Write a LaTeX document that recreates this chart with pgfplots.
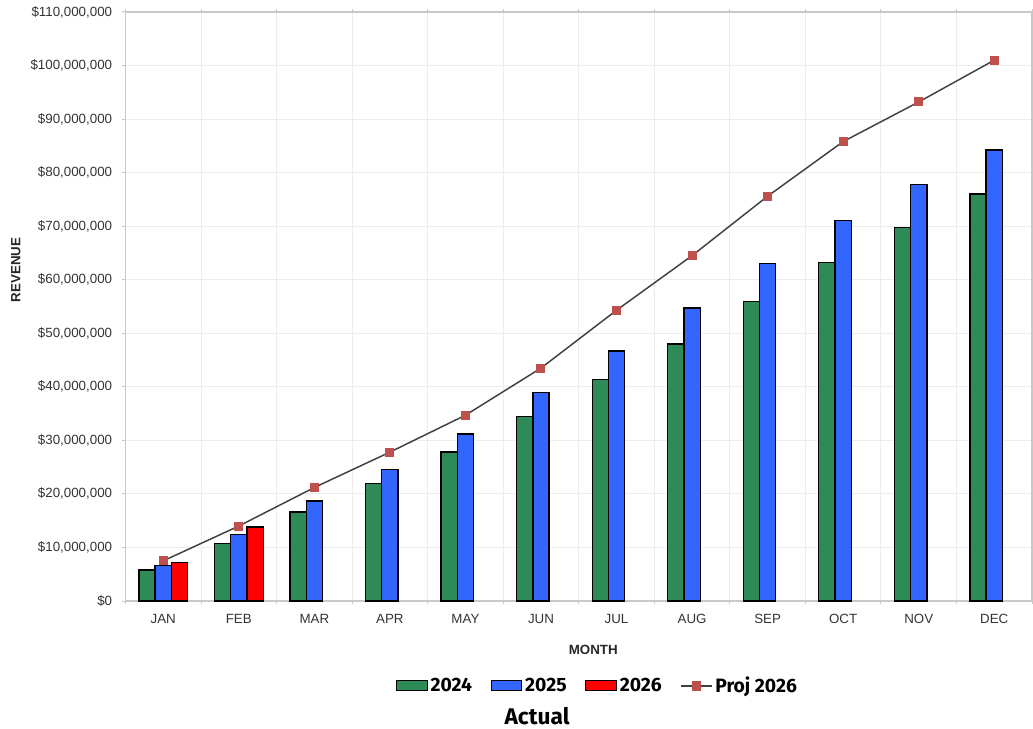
\documentclass[border=0pt]{standalone}
\usepackage{pgfplots}
\pgfplotsset{compat=1.18}
\usepackage{fontspec}
\setmainfont{Liberation Sans}
\newfontfamily\legfont{Fira Sans}
\definecolor{colG}{HTML}{2E8B57}
\definecolor{colB}{HTML}{3366FF}
\definecolor{colR}{HTML}{FF0000}
\definecolor{colM}{HTML}{C0504D}
\definecolor{colL}{HTML}{404040}
\definecolor{gridc}{HTML}{EDEDED}
\definecolor{axc}{HTML}{C8C8C8}
\definecolor{txtc}{HTML}{333333}
\begin{document}
\begin{tikzpicture}
\useasboundingbox (0pt,0pt) rectangle (774.75pt,546.75pt);
\begin{axis}[
  at={(94.125pt,96pt)}, anchor=south west, scale only axis,
  width=679.9pt, height=441.75pt,
  xmin=-0.5, xmax=11.5, ymin=0, ymax=110,
  xtick={0,...,11},
  xticklabels={JAN,FEB,MAR,APR,MAY,JUN,JUL,AUG,SEP,OCT,NOV,DEC},
  minor xtick={-0.5,0.5,...,11.5},
  xminorgrids=true, ymajorgrids=true,
  ytick={0,10,...,110},
  yticklabels={{\$0},{\$10,000,000},{\$20,000,000},{\$30,000,000},{\$40,000,000},{\$50,000,000},{\$60,000,000},{\$70,000,000},{\$80,000,000},{\$90,000,000},{\$100,000,000},{\$110,000,000}},
  /pgf/number format/assume math mode=true,
  grid style={gridc, line width=0.75pt},
  minor grid style={gridc, line width=0.75pt},
  axis line style={axc, line width=0.9pt},
  tick align=outside,
  major tick length=2.5pt, minor tick length=2.5pt,
  tick style={axc, line width=0.75pt},
  every major x tick/.append style={draw=none},
  ticklabel style={font=\fontsize{10}{12}\selectfont, text=txtc},
  xticklabel style={yshift=-4pt},
  yticklabel style={xshift=-4pt},
  xlabel={\textbf{MONTH}},
  xlabel style={font=\fontsize{10}{12}\selectfont, text=black!85, at={(axis description cs:0.516,-0.083)}, anchor=center},
  ylabel={\textbf{REVENUE}},
  ylabel style={font=\fontsize{10}{12}\selectfont, text=black!85, at={(axis description cs:-0.121,0.562)}, anchor=center, rotate=0},
  legend columns=4,
  legend style={at={(axis description cs:0.521,-0.144)}, anchor=center, draw=none, fill=none,
    font=\legfont\bfseries\fontsize{14.5}{17}\selectfont,
    /tikz/every even column/.append style={column sep=12pt}},
  clip=false,
]
\addplot[ybar, bar width=0.215, bar shift=-0.215, fill=colG, draw=black, line width=1pt,
  legend image code/.code={\draw[fill=colG, draw=black, line width=0.9pt] (0pt,-3.75pt) rectangle (23pt,3.75pt);}]
  coordinates {(0,5.8)(1,10.8)(2,16.6)(3,22.0)(4,27.8)(5,34.5)(6,41.4)(7,48.0)(8,55.9)(9,63.2)(10,69.7)(11,76.0)};
\addlegendentry{2024}
\addplot[ybar, bar width=0.215, bar shift=0, fill=colB, draw=black, line width=1pt,
  legend image code/.code={\draw[fill=colB, draw=black, line width=0.9pt] (0pt,-3.75pt) rectangle (23pt,3.75pt);}]
  coordinates {(0,6.6)(1,12.4)(2,18.7)(3,24.6)(4,31.2)(5,39.0)(6,46.7)(7,54.7)(8,63.0)(9,71.0)(10,77.8)(11,84.2)};
\addlegendentry{2025}
\addplot[ybar, bar width=0.215, bar shift=0.215, fill=colR, draw=black, line width=1pt,
  legend image code/.code={\draw[fill=colR, draw=black, line width=0.9pt] (0pt,-3.75pt) rectangle (23pt,3.75pt);}]
  coordinates {(0,7.15)(1,13.8)};
\addlegendentry{2026}
\addplot[sharp plot, color=colL, line width=1.1pt, mark=square*,
  mark options={fill=colM, draw=colM, line width=0pt}, mark size=3pt,
  legend image code/.code={\draw[colL, line width=1.1pt] (0pt,0pt) -- (23pt,0pt); \fill[colM] (8.5pt,-3pt) rectangle (14.5pt,3pt);}]
  coordinates {(0,7.5)(1,14.0)(2,21.2)(3,27.8)(4,34.7)(5,43.5)(6,54.3)(7,64.5)(8,75.6)(9,85.8)(10,93.2)(11,101.0)};
\addlegendentry{Proj 2026}
\node[font=\legfont\bfseries\fontsize{17}{20}\selectfont, anchor=center] at (axis description cs:0.454,-0.195) {Actual};
\end{axis}
\end{tikzpicture}
\end{document}
